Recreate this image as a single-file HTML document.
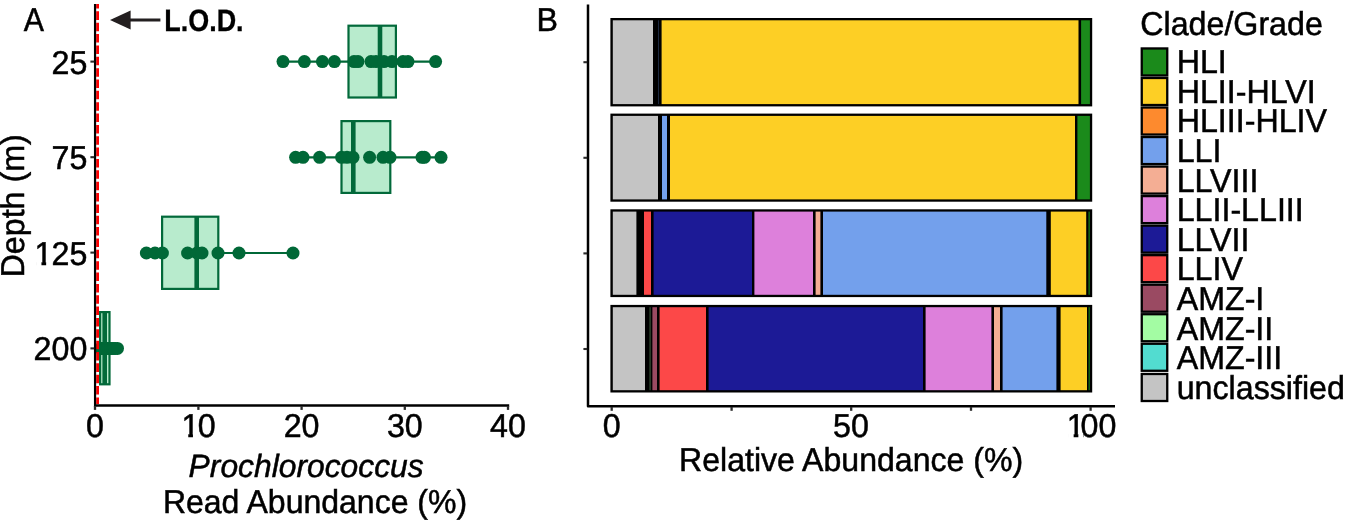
<!DOCTYPE html>
<html lang="en"><head><meta charset="utf-8"><title>Prochlorococcus read abundance and clade composition by depth</title>
<style>html,body{margin:0;padding:0;background:#fff;}svg{display:block;will-change:transform;}text{font-family:"Liberation Sans", "Helvetica", "Arial", sans-serif;fill:#000;stroke:#000;stroke-width:0.5px;stroke-linejoin:miter;text-rendering:geometricPrecision;}</style>
</head><body>
<svg width="1350" height="520" viewBox="0 0 1350 520">
<rect x="0" y="0" width="1350" height="520" fill="#fff"/>
<g id="panelA">
<line x1="283.0" y1="61.6" x2="435.6" y2="61.6" stroke="#006837" stroke-width="2.2"/>
<rect x="348.50" y="25.70" width="47.40" height="71.80" fill="#B8EBCD" stroke="#02693a" stroke-width="2.2"/>
<line x1="380.0" y1="25.6" x2="380.0" y2="97.6" stroke="#02693a" stroke-width="4.6"/>
<circle cx="283.0" cy="61.6" r="6.5" fill="#006837"/>
<circle cx="304.4" cy="61.6" r="6.5" fill="#006837"/>
<circle cx="322.4" cy="61.6" r="6.5" fill="#006837"/>
<circle cx="334.4" cy="61.6" r="6.5" fill="#006837"/>
<circle cx="354.0" cy="61.6" r="6.5" fill="#006837"/>
<circle cx="358.0" cy="61.6" r="6.5" fill="#006837"/>
<circle cx="371.0" cy="61.6" r="6.5" fill="#006837"/>
<circle cx="376.0" cy="61.6" r="6.5" fill="#006837"/>
<circle cx="384.0" cy="61.6" r="6.5" fill="#006837"/>
<circle cx="392.0" cy="61.6" r="6.5" fill="#006837"/>
<circle cx="403.0" cy="61.6" r="6.5" fill="#006837"/>
<circle cx="408.0" cy="61.6" r="6.5" fill="#006837"/>
<circle cx="435.6" cy="61.6" r="6.5" fill="#006837"/>
<line x1="295.6" y1="157.3" x2="441.0" y2="157.3" stroke="#006837" stroke-width="2.2"/>
<rect x="341.50" y="121.10" width="48.80" height="71.80" fill="#B8EBCD" stroke="#02693a" stroke-width="2.2"/>
<line x1="353.3" y1="121.0" x2="353.3" y2="193.0" stroke="#02693a" stroke-width="4.6"/>
<circle cx="295.6" cy="157.3" r="6.5" fill="#006837"/>
<circle cx="303.0" cy="157.3" r="6.5" fill="#006837"/>
<circle cx="319.6" cy="157.3" r="6.5" fill="#006837"/>
<circle cx="341.6" cy="157.3" r="6.5" fill="#006837"/>
<circle cx="347.0" cy="157.3" r="6.5" fill="#006837"/>
<circle cx="353.0" cy="157.3" r="6.5" fill="#006837"/>
<circle cx="369.6" cy="157.3" r="6.5" fill="#006837"/>
<circle cx="383.0" cy="157.3" r="6.5" fill="#006837"/>
<circle cx="390.0" cy="157.3" r="6.5" fill="#006837"/>
<circle cx="422.0" cy="157.3" r="6.5" fill="#006837"/>
<circle cx="424.4" cy="157.3" r="6.5" fill="#006837"/>
<circle cx="441.0" cy="157.3" r="6.5" fill="#006837"/>
<line x1="146.4" y1="253.0" x2="293.0" y2="253.0" stroke="#006837" stroke-width="2.2"/>
<rect x="162.10" y="216.70" width="56.20" height="72.20" fill="#B8EBCD" stroke="#02693a" stroke-width="2.2"/>
<line x1="196.7" y1="216.6" x2="196.7" y2="289.0" stroke="#02693a" stroke-width="4.6"/>
<circle cx="146.4" cy="253.0" r="6.5" fill="#006837"/>
<circle cx="155.0" cy="253.0" r="6.5" fill="#006837"/>
<circle cx="162.4" cy="253.0" r="6.5" fill="#006837"/>
<circle cx="187.6" cy="253.0" r="6.5" fill="#006837"/>
<circle cx="197.0" cy="253.0" r="6.5" fill="#006837"/>
<circle cx="202.0" cy="253.0" r="6.5" fill="#006837"/>
<circle cx="218.0" cy="253.0" r="6.5" fill="#006837"/>
<circle cx="239.0" cy="253.0" r="6.5" fill="#006837"/>
<circle cx="293.0" cy="253.0" r="6.5" fill="#006837"/>
<line x1="100.8" y1="348.4" x2="117.5" y2="348.4" stroke="#006837" stroke-width="2.2"/>
<rect x="100.10" y="312.10" width="9.40" height="72.20" fill="#B8EBCD" stroke="#02693a" stroke-width="2.2"/>
<line x1="104.7" y1="312.0" x2="104.7" y2="384.4" stroke="#02693a" stroke-width="4.6"/>
<circle cx="100.8" cy="348.4" r="6.5" fill="#006837"/>
<circle cx="102.0" cy="348.4" r="6.5" fill="#006837"/>
<circle cx="103.5" cy="348.4" r="6.5" fill="#006837"/>
<circle cx="105.0" cy="348.4" r="6.5" fill="#006837"/>
<circle cx="107.0" cy="348.4" r="6.5" fill="#006837"/>
<circle cx="109.0" cy="348.4" r="6.5" fill="#006837"/>
<circle cx="111.0" cy="348.4" r="6.5" fill="#006837"/>
<circle cx="113.0" cy="348.4" r="6.5" fill="#006837"/>
<circle cx="115.0" cy="348.4" r="6.5" fill="#006837"/>
<circle cx="117.5" cy="348.4" r="6.5" fill="#006837"/>
<line x1="97.6" y1="4" x2="97.6" y2="404" stroke="#ff0000" stroke-width="2.8" stroke-dasharray="8.52 2.835" stroke-dashoffset="4"/>
<line x1="95.05" y1="4" x2="95.05" y2="406.8" stroke="#000" stroke-width="2.2"/>
<line x1="94" y1="405.6" x2="509.2" y2="405.6" stroke="#000" stroke-width="2.5"/>
<line x1="90.4" y1="61.6" x2="94.2" y2="61.6" stroke="#2b2b2b" stroke-width="2.1"/>
<line x1="90.4" y1="157.2" x2="94.2" y2="157.2" stroke="#2b2b2b" stroke-width="2.1"/>
<line x1="90.4" y1="252.6" x2="94.2" y2="252.6" stroke="#2b2b2b" stroke-width="2.1"/>
<line x1="90.4" y1="348.4" x2="94.2" y2="348.4" stroke="#2b2b2b" stroke-width="2.1"/>
<line x1="95.0" y1="406" x2="95.0" y2="409.9" stroke="#2b2b2b" stroke-width="2.3"/>
<line x1="198.4" y1="406" x2="198.4" y2="409.9" stroke="#2b2b2b" stroke-width="2.3"/>
<line x1="301.6" y1="406" x2="301.6" y2="409.9" stroke="#2b2b2b" stroke-width="2.3"/>
<line x1="404.8" y1="406" x2="404.8" y2="409.9" stroke="#2b2b2b" stroke-width="2.3"/>
<line x1="508.0" y1="406" x2="508.0" y2="409.9" stroke="#2b2b2b" stroke-width="2.3"/>
<line x1="128" y1="20" x2="160.4" y2="20" stroke="#231f20" stroke-width="3"/>
<polygon points="110,20 130.6,10.6 130.6,29.4" fill="#231f20"/>
<text transform="translate(23.70,30.60) scale(1,1.0250)" font-size="32.2" textLength="20.2" lengthAdjust="spacingAndGlyphs">A</text>
<text transform="translate(164.30,30.90) scale(1,1.0250)" font-size="30.2" textLength="79.3" lengthAdjust="spacingAndGlyphs" font-weight="bold" style="stroke-width:0.3px">L.O.D.</text>
<text transform="translate(87.30,73.50) scale(1,1.0250)" font-size="32.2" text-anchor="end">25</text>
<text transform="translate(87.30,169.10) scale(1,1.0250)" font-size="32.2" text-anchor="end">75</text>
<text transform="translate(87.30,360.20) scale(1,1.0250)" font-size="32.2" text-anchor="end">200</text>
<text transform="translate(0,264.50) scale(1,1.0250)" x="34.60 51.50 69.40" y="0" font-size="32.2">125</text>
<rect x="36.10" y="260.60" width="5.35" height="5.7" fill="#fff"/>
<rect x="46.15" y="260.60" width="5.80" height="5.7" fill="#fff"/>
<text transform="translate(95.00,437.10) scale(1,1.0250)" font-size="32.2" text-anchor="middle">0</text>
<text transform="translate(301.60,437.10) scale(1,1.0250)" font-size="32.2" text-anchor="middle">20</text>
<text transform="translate(404.80,437.10) scale(1,1.0250)" font-size="32.2" text-anchor="middle">30</text>
<text transform="translate(508.00,437.10) scale(1,1.0250)" font-size="32.2" text-anchor="middle">40</text>
<text transform="translate(0,437.10) scale(1,1.0250)" x="181.40 197.80" y="0" font-size="32.2">10</text>
<rect x="182.90" y="433.20" width="5.35" height="5.7" fill="#fff"/>
<rect x="192.95" y="433.20" width="5.80" height="5.7" fill="#fff"/>
<text transform="translate(23.70,277.40) rotate(-90) scale(1,1.0250)" font-size="32.2">Depth (m)</text>
<text transform="translate(188.60,476.70) scale(1,1.0000)" font-size="32.2" textLength="235.0" lengthAdjust="spacingAndGlyphs" font-style="italic">Prochlorococcus</text>
<text transform="translate(162.90,513.20) scale(1,1.0250)" font-size="32.2" textLength="304.2" lengthAdjust="spacingAndGlyphs">Read Abundance (%)</text>
</g>
<g id="panelB">
<text transform="translate(536.40,31.00) scale(1,1.0250)" font-size="32.2">B</text>
<rect x="610.40" y="18.00" width="481.80" height="88.40" fill="#000"/>
<rect x="612.80" y="20.30" width="40.20" height="83.80" fill="#C4C4C4"/>
<rect x="658.10" y="20.30" width="0.60" height="83.80" fill="#31456b"/>
<rect x="661.60" y="20.30" width="416.90" height="83.80" fill="#FDCF25"/>
<rect x="1081.10" y="20.30" width="8.80" height="83.80" fill="#1B8A1B"/>
<rect x="610.40" y="113.60" width="481.80" height="88.10" fill="#000"/>
<rect x="612.80" y="115.90" width="45.20" height="83.50" fill="#C4C4C4"/>
<rect x="662.00" y="115.90" width="5.00" height="83.50" fill="#73A0EC"/>
<rect x="670.00" y="115.90" width="405.00" height="83.50" fill="#FDCF25"/>
<rect x="1077.40" y="115.90" width="12.50" height="83.50" fill="#1B8A1B"/>
<rect x="610.40" y="209.30" width="481.80" height="87.80" fill="#000"/>
<rect x="612.80" y="211.60" width="23.60" height="83.20" fill="#C4C4C4"/>
<rect x="644.00" y="211.60" width="7.00" height="83.20" fill="#FC4848"/>
<rect x="653.60" y="211.60" width="98.40" height="83.20" fill="#1C1A96"/>
<rect x="754.40" y="211.60" width="58.60" height="83.20" fill="#DD80DB"/>
<rect x="815.60" y="211.60" width="4.80" height="83.20" fill="#F4AE94"/>
<rect x="823.00" y="211.60" width="223.30" height="83.20" fill="#73A0EC"/>
<rect x="1050.80" y="211.60" width="35.40" height="83.20" fill="#FDCF25"/>
<rect x="1088.40" y="211.60" width="1.50" height="83.20" fill="#146a14"/>
<rect x="610.40" y="304.90" width="481.80" height="87.60" fill="#000"/>
<rect x="612.80" y="307.20" width="32.20" height="83.00" fill="#C4C4C4"/>
<rect x="649.70" y="307.20" width="0.70" height="83.00" fill="#5f8a5f"/>
<rect x="652.40" y="307.20" width="4.60" height="83.00" fill="#9A4A62"/>
<rect x="659.60" y="307.20" width="46.40" height="83.00" fill="#FC4848"/>
<rect x="708.60" y="307.20" width="214.40" height="83.00" fill="#1C1A96"/>
<rect x="925.60" y="307.20" width="65.80" height="83.00" fill="#DD80DB"/>
<rect x="994.00" y="307.20" width="6.00" height="83.00" fill="#F4AE94"/>
<rect x="1002.60" y="307.20" width="53.80" height="83.00" fill="#73A0EC"/>
<rect x="1060.60" y="307.20" width="26.40" height="83.00" fill="#FDCF25"/>
<rect x="1088.50" y="307.20" width="1.40" height="83.00" fill="#146a14"/>
<path d="M588.0,4.4 L588.0,406.25 L1115,406.25" fill="none" stroke="#000" stroke-width="2.5" stroke-linejoin="round"/>
<line x1="583.4" y1="62.2" x2="587.2" y2="62.2" stroke="#2b2b2b" stroke-width="2.1"/>
<line x1="583.4" y1="157.8" x2="587.2" y2="157.8" stroke="#2b2b2b" stroke-width="2.1"/>
<line x1="583.4" y1="253.4" x2="587.2" y2="253.4" stroke="#2b2b2b" stroke-width="2.1"/>
<line x1="583.4" y1="349.0" x2="587.2" y2="349.0" stroke="#2b2b2b" stroke-width="2.1"/>
<line x1="611.7" y1="407" x2="611.7" y2="410.8" stroke="#2b2b2b" stroke-width="2.3"/>
<line x1="731.6" y1="407" x2="731.6" y2="410.8" stroke="#2b2b2b" stroke-width="2.3"/>
<line x1="851.2" y1="407" x2="851.2" y2="410.8" stroke="#2b2b2b" stroke-width="2.3"/>
<line x1="971.0" y1="407" x2="971.0" y2="410.8" stroke="#2b2b2b" stroke-width="2.3"/>
<line x1="1090.6" y1="407" x2="1090.6" y2="410.8" stroke="#2b2b2b" stroke-width="2.3"/>
<text transform="translate(611.60,437.40) scale(1,1.0250)" font-size="32.2" text-anchor="middle">0</text>
<text transform="translate(851.00,437.40) scale(1,1.0250)" font-size="32.2" text-anchor="middle">50</text>
<text transform="translate(0,437.40) scale(1,1.0250)" x="1066.80 1080.40 1098.40" y="0" font-size="32.2">100</text>
<rect x="1068.30" y="433.50" width="5.35" height="5.7" fill="#fff"/>
<rect x="1078.35" y="433.50" width="4.65" height="5.7" fill="#fff"/>
<text transform="translate(679.10,471.00) scale(1,1.0250)" font-size="32.2" textLength="344.0" lengthAdjust="spacingAndGlyphs">Relative Abundance (%)</text>
</g>
<g id="legend">
<text transform="translate(1140.30,35.40) scale(1,1.0250)" font-size="32.2">Clade/Grade</text>
<rect x="1141.75" y="48.45" width="25.50" height="27.03" fill="#1B8A1B" stroke="#000" stroke-width="2.3"/>
<text transform="translate(1176.70,73.20) scale(1,1.0250)" font-size="32.2">HLI</text>
<rect x="1141.75" y="77.98" width="25.50" height="27.03" fill="#FDCF25" stroke="#000" stroke-width="2.3"/>
<text transform="translate(1176.70,102.80) scale(1,1.0250)" font-size="32.2">HLII-HLVI</text>
<rect x="1141.75" y="107.51" width="25.50" height="27.03" fill="#FD8A2E" stroke="#000" stroke-width="2.3"/>
<text transform="translate(1176.70,132.40) scale(1,1.0250)" font-size="32.2">HLIII-HLIV</text>
<rect x="1141.75" y="137.04" width="25.50" height="27.03" fill="#73A0EC" stroke="#000" stroke-width="2.3"/>
<text transform="translate(1176.70,162.00) scale(1,1.0250)" font-size="32.2">LLI</text>
<rect x="1141.75" y="166.57" width="25.50" height="27.03" fill="#F4AE94" stroke="#000" stroke-width="2.3"/>
<text transform="translate(1176.70,191.60) scale(1,1.0250)" font-size="32.2">LLVIII</text>
<rect x="1141.75" y="196.10" width="25.50" height="27.03" fill="#DD80DB" stroke="#000" stroke-width="2.3"/>
<text transform="translate(1176.70,221.20) scale(1,1.0250)" font-size="32.2">LLII-LLIII</text>
<rect x="1141.75" y="225.63" width="25.50" height="27.03" fill="#1C1A96" stroke="#000" stroke-width="2.3"/>
<text transform="translate(1176.70,250.80) scale(1,1.0250)" font-size="32.2">LLVII</text>
<rect x="1141.75" y="255.16" width="25.50" height="27.03" fill="#FC4848" stroke="#000" stroke-width="2.3"/>
<text transform="translate(1176.70,280.40) scale(1,1.0250)" font-size="32.2">LLIV</text>
<rect x="1141.75" y="284.69" width="25.50" height="27.03" fill="#9A4A62" stroke="#000" stroke-width="2.3"/>
<text transform="translate(1176.70,310.00) scale(1,1.0250)" font-size="32.2">AMZ-I</text>
<rect x="1141.75" y="314.22" width="25.50" height="27.03" fill="#A3FCA3" stroke="#000" stroke-width="2.3"/>
<text transform="translate(1176.70,339.60) scale(1,1.0250)" font-size="32.2">AMZ-II</text>
<rect x="1141.75" y="343.75" width="25.50" height="27.03" fill="#52DCD0" stroke="#000" stroke-width="2.3"/>
<text transform="translate(1176.70,369.20) scale(1,1.0250)" font-size="32.2">AMZ-III</text>
<rect x="1141.75" y="373.98" width="25.50" height="27.03" fill="#C4C4C4" stroke="#000" stroke-width="2.3"/>
<text transform="translate(1176.70,398.80) scale(1,1.0250)" font-size="32.2">unclassified</text>
</g>
</svg>
</body></html>
